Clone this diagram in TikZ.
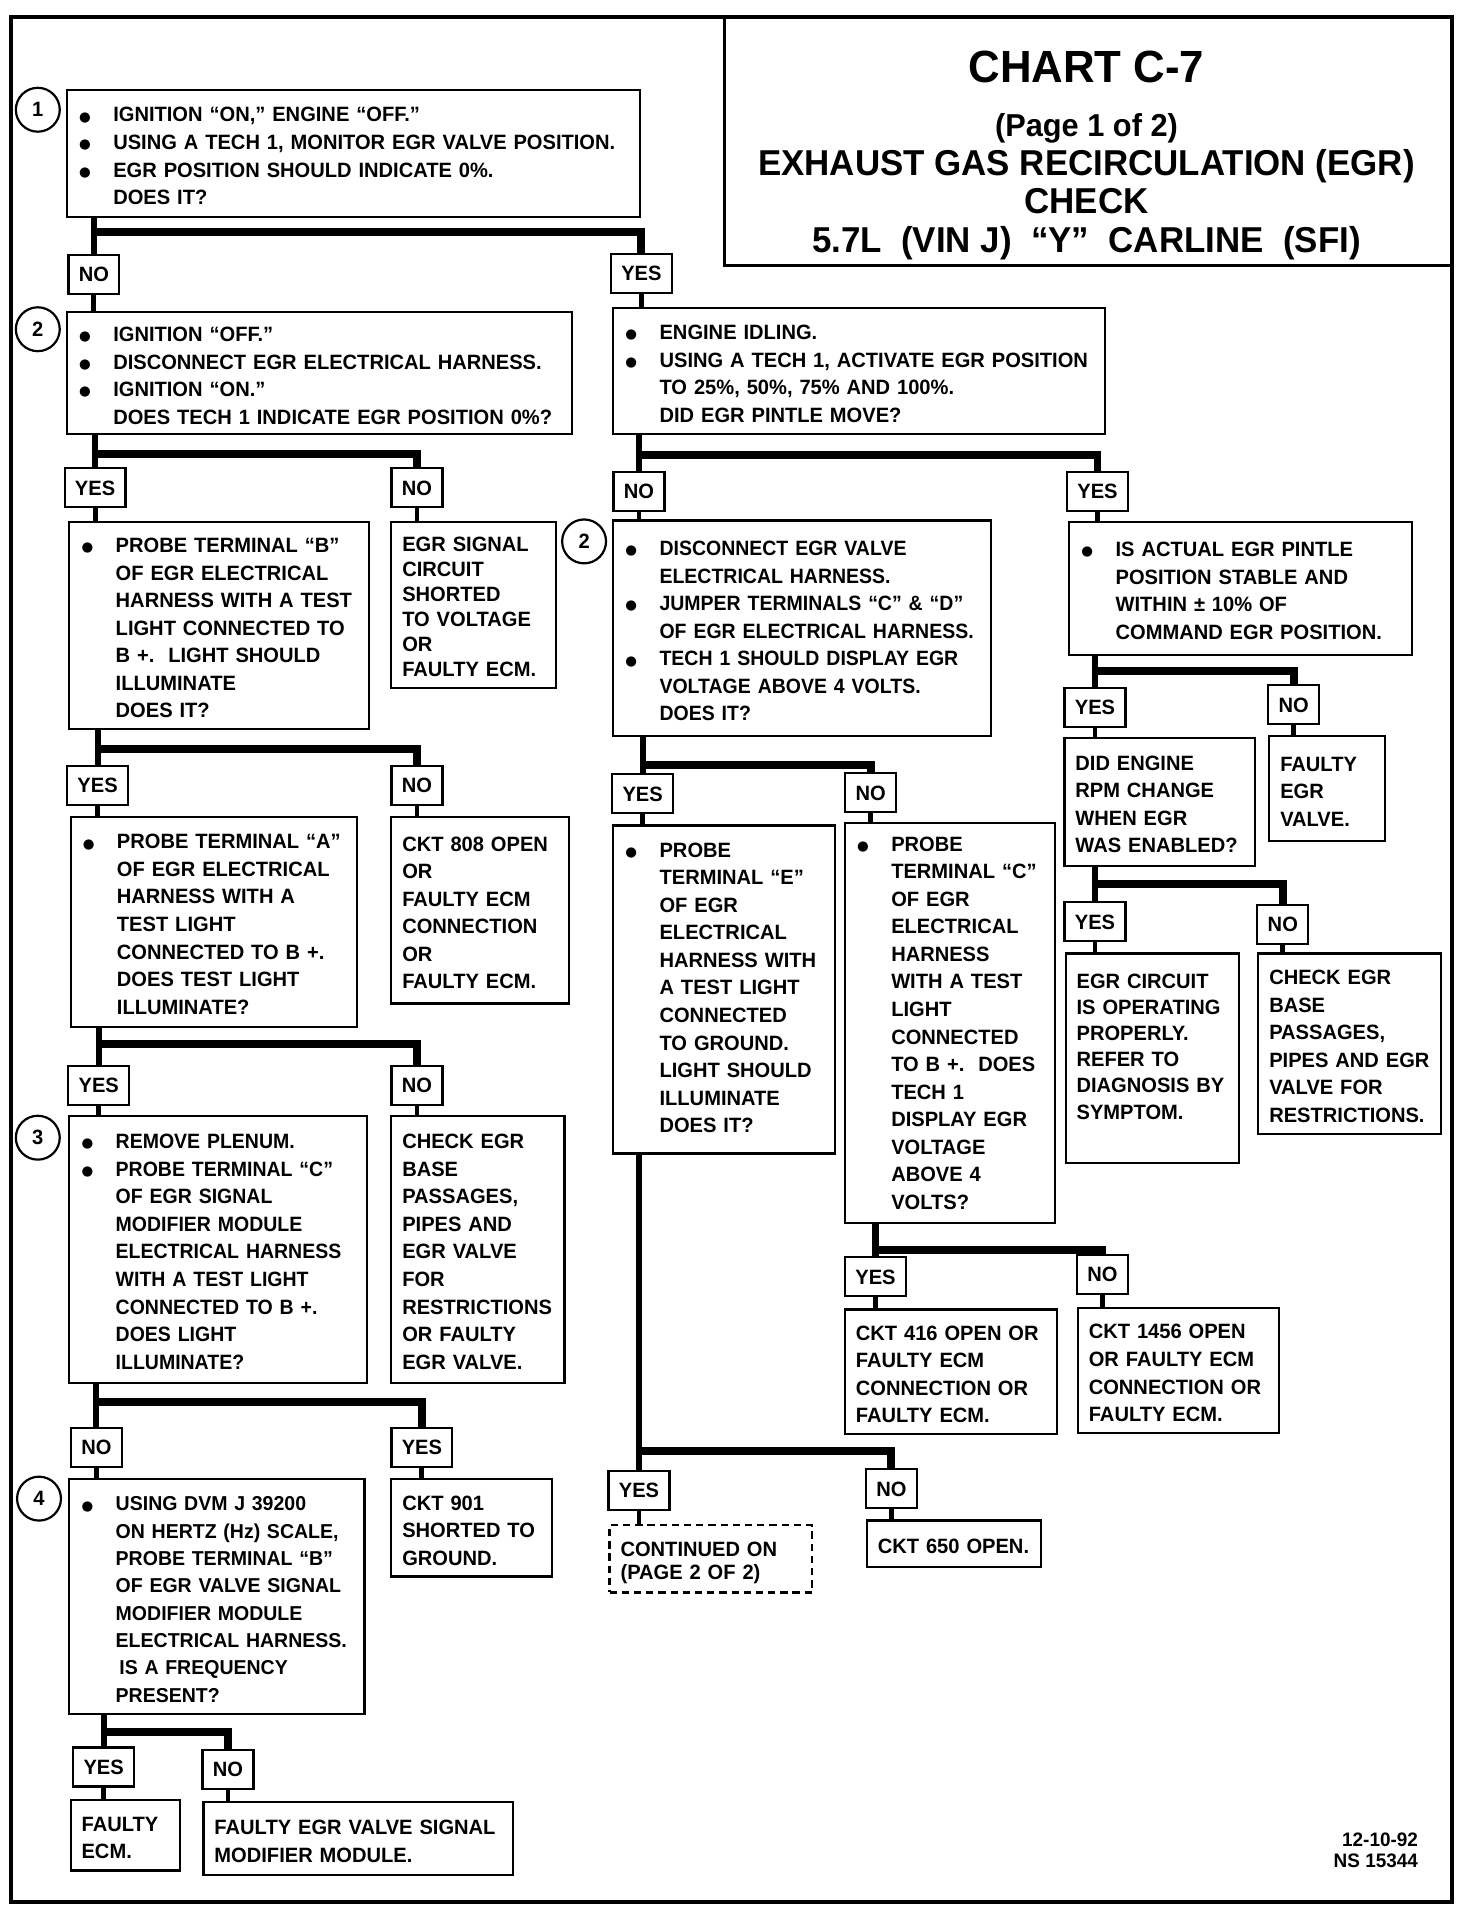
\documentclass[tikz,border=0pt]{standalone}
\usepackage{fontspec}
\setmainfont{Liberation Sans}[FakeStretch=0.97]
\newfontfamily\narrowfont{Liberation Sans}[FakeStretch=0.94]
\newfontfamily\dejavu{DejaVu Sans}
\usetikzlibrary{calc}
\newcommand\bodyfont{\fontsize{17}{22.6}\selectfont\bfseries}
\newcommand\narrowbody{\narrowfont\fontsize{17}{22.6}\selectfont\bfseries}
\newcommand\bul{\makebox[29pt][l]{\hspace*{1pt}{\dejavu\fontsize{11}{11}\selectfont\raisebox{0.6pt}{●}}}}
\newcommand\ind{\hspace*{29pt}}
\tikzset{
  bshift/.store in=\bshift, bshift=-3.5pt,
  box/.style={draw, line width=1.8pt, rectangle, anchor=north west, inner xsep=9pt, inner ysep=0pt, align=left, font=\bodyfont},
  lbl/.style={draw, line width=1.8pt, rectangle, inner xsep=8.5pt, inner ysep=0pt, minimum height=32pt, text height=12.3pt, text depth=0pt, font=\bodyfont},
  circ/.style={draw, circle, line width=1.8pt, minimum size=36pt, inner sep=0pt, font=\bodyfont},
  stem/.style={line width=5pt},
  barline/.style={line width=6.5pt, line join=miter},
  lstem/.style={line width=4pt},
  ttl/.style={anchor=base, inner sep=0pt},
}
% [opts]{name}{x1}{y1}{x2}{y2}{rows}
\newcommand\mkbox[7][]{%
  \pgfmathsetmacro\bw{#5-#3-18}%
  \pgfmathsetmacro\bh{#6-#4}%
  \node[box, text width=\bw pt, minimum height=\bh pt, #1] (#2) at (#3,#4) {\raisebox{\bshift}[\height][\depth]{\begin{tabular}{@{}l@{}}#7\end{tabular}}};}
\newcommand\branch[4]{%
  \draw[stem] (#2.north |- #1.south) -- (#2.north);
  \draw[barline] (#2.north |- 0,#4) -| (#3.north);}
\newcommand\feed[2]{\draw[lstem] (#1.south) -- (#1.south |- #2.north);}
\begin{document}
\begin{tikzpicture}[x=1pt,y=-1pt]
\useasboundingbox (0,0) rectangle (1207,1568);
% frame and title
\draw[line width=3.5pt] (9,14) rectangle (1191,1560);
\draw[line width=2.5pt] (594,14) rectangle (1191,218);
\node[ttl, font=\fontsize{37}{37}\selectfont\bfseries] (t1) at (891,68) {CHART C-7};
\node[ttl, font=\fontsize{26}{26}\selectfont\bfseries] (t2) at (891,112) {(Page 1 of 2)};
\node[ttl, font=\fontsize{29.5}{29.5}\selectfont\bfseries] (t3) at (891,144) {EXHAUST GAS RECIRCULATION (EGR)};
\node[ttl, font=\fontsize{29.5}{29.5}\selectfont\bfseries] (t4) at (891,175) {CHECK};
\node[ttl, font=\fontsize{29.5}{29.5}\selectfont\bfseries] (t5) at (891,207) {5.7L\ \ (VIN J)\ \ “Y”\ \ CARLINE\ \ (SFI)};

% circles
\node[circ] (c1) at (31,90) {1};
\node[circ] (c2) at (31,270) {2};
\node[circ] (c2b) at (479,444) {2};
\node[circ] (c3) at (31,933) {3};
\node[circ] (c4) at (32,1229) {4};

% boxes - left column
\mkbox{b1}{54}{73}{524}{177}{\bul IGNITION “ON,” ENGINE “OFF.”\\ \bul USING A TECH 1, MONITOR EGR VALVE POSITION.\\ \bul EGR POSITION SHOULD INDICATE 0\%.\\ \ind DOES IT?}
\mkbox{b2L}{54}{255}{468}{355}{\bul IGNITION “OFF.”\\ \bul DISCONNECT EGR ELECTRICAL HARNESS.\\ \bul IGNITION “ON.”\\ \ind DOES TECH 1 INDICATE EGR POSITION 0\%?}
\mkbox{bB}{56}{427}{302}{597}{\bul PROBE TERMINAL “B”\\ \ind OF EGR ELECTRICAL\\ \ind HARNESS WITH A TEST\\ \ind LIGHT CONNECTED TO\\ \ind B +.\ \ LIGHT SHOULD\\ \ind ILLUMINATE\\ \ind DOES IT?}
\mkbox[font=\fontsize{17}{20.4}\selectfont\bfseries]{bSig}{320}{427}{455}{563}{EGR SIGNAL\\ CIRCUIT\\ SHORTED\\ TO VOLTAGE\\ OR\\ FAULTY ECM.}
\mkbox{bA}{57}{669}{292}{841}{\bul PROBE TERMINAL “A”\\ \ind OF EGR ELECTRICAL\\ \ind HARNESS WITH A\\ \ind TEST LIGHT\\ \ind CONNECTED TO B +.\\ \ind DOES TEST LIGHT\\ \ind ILLUMINATE?}
\mkbox{b808}{320}{669}{466}{822}{CKT 808 OPEN\\ OR\\ FAULTY ECM\\ CONNECTION\\ OR\\ FAULTY ECM.}
\mkbox[font=\narrowbody]{b3}{56}{914}{300}{1133}{\bul REMOVE PLENUM.\\ \bul PROBE TERMINAL “C”\\ \ind OF EGR SIGNAL\\ \ind MODIFIER MODULE\\ \ind ELECTRICAL HARNESS\\ \ind WITH A TEST LIGHT\\ \ind CONNECTED TO B +.\\ \ind DOES LIGHT\\ \ind ILLUMINATE?}
\mkbox{bChk1}{320}{914}{462}{1133}{CHECK EGR\\ BASE\\ PASSAGES,\\ PIPES AND\\ EGR VALVE\\ FOR\\ RESTRICTIONS\\ OR FAULTY\\ EGR VALVE.}
\mkbox[font=\fontsize{16.5}{22.4}\selectfont\bfseries]{b4}{56}{1212}{298}{1405}{\bul USING DVM J 39200\\ \ind ON HERTZ (Hz) SCALE,\\ \ind PROBE TERMINAL “B”\\ \ind OF EGR VALVE SIGNAL\\ \ind MODIFIER MODULE\\ \ind ELECTRICAL HARNESS.\\ \ind\hspace*{3pt}IS A FREQUENCY\\ \ind PRESENT?}
\mkbox{b901}{320}{1212}{452}{1292}{CKT 901\\ SHORTED TO\\ GROUND.}
\mkbox{bFE}{57}{1475}{147}{1533}{FAULTY\\ ECM.}
\mkbox{bFM}{166}{1477}{420}{1537}{FAULTY EGR VALVE SIGNAL\\ MODIFIER MODULE.}

% boxes - right part
\mkbox{b2R}{502}{252}{905}{355}{\bul ENGINE IDLING.\\ \bul USING A TECH 1, ACTIVATE EGR POSITION\\ \ind TO 25\%, 50\%, 75\% AND 100\%.\\ \ind DID EGR PINTLE MOVE?}
\mkbox[font=\narrowbody]{bDis}{502}{426}{812}{603}{\bul DISCONNECT EGR VALVE\\ \ind ELECTRICAL HARNESS.\\ \bul JUMPER TERMINALS “C” \& “D”\\ \ind OF EGR ELECTRICAL HARNESS.\\ \bul TECH 1 SHOULD DISPLAY EGR\\ \ind VOLTAGE ABOVE 4 VOLTS.\\ \ind DOES IT?}
\mkbox{bAct}{876}{427}{1157}{536}{\bul IS ACTUAL EGR PINTLE\\ \ind POSITION STABLE AND\\ \ind WITHIN ± 10\% OF\\ \ind COMMAND EGR POSITION.}
\mkbox{bRPM}{872}{604}{1028}{709}{DID ENGINE\\ RPM CHANGE\\ WHEN EGR\\ WAS ENABLED?}
\mkbox{bFV}{1040}{603}{1135}{689}{FAULTY\\ EGR\\ VALVE.}
\mkbox[bshift=8pt, font=\fontsize{17}{21.4}\selectfont\bfseries]{bOK}{873}{781}{1015}{953}{EGR CIRCUIT\\ IS OPERATING\\ PROPERLY.\\ REFER TO\\ DIAGNOSIS BY\\ SYMPTOM.}
\mkbox{bChk2}{1031}{781}{1181}{929}{CHECK EGR\\ BASE\\ PASSAGES,\\ PIPES AND EGR\\ VALVE FOR\\ RESTRICTIONS.}
\mkbox[bshift=0pt]{bE}{502}{676}{684}{945}{\bul PROBE\\ \ind TERMINAL “E”\\ \ind OF EGR\\ \ind ELECTRICAL\\ \ind HARNESS WITH\\ \ind A TEST LIGHT\\ \ind CONNECTED\\ \ind TO GROUND.\\ \ind LIGHT SHOULD\\ \ind ILLUMINATE\\ \ind DOES IT?}
\mkbox[bshift=-1.5pt]{bC}{692}{674}{864}{1002}{\bul PROBE\\ \ind TERMINAL “C”\\ \ind OF EGR\\ \ind ELECTRICAL\\ \ind HARNESS\\ \ind WITH A TEST\\ \ind LIGHT\\ \ind CONNECTED\\ \ind TO B +.\ \ DOES\\ \ind TECH 1\\ \ind DISPLAY EGR\\ \ind VOLTAGE\\ \ind ABOVE 4\\ \ind VOLTS?}
\mkbox{b416}{692}{1073}{866}{1175}{CKT 416 OPEN OR\\ FAULTY ECM\\ CONNECTION OR\\ FAULTY ECM.}
\mkbox{b1456}{883}{1072}{1048}{1174}{CKT 1456 OPEN\\ OR FAULTY ECM\\ CONNECTION OR\\ FAULTY ECM.}
\mkbox[dashed, dash pattern=on 6pt off 4pt, font=\fontsize{17}{19}\selectfont\bfseries]{bCont}{499}{1250}{665}{1305}{CONTINUED ON\\ (PAGE 2 OF 2)}
\mkbox{b650}{710}{1246}{853}{1284}{CKT 650 OPEN.}

% YES / NO labels
\node[lbl] (n1) at (77,225) {NO};
\node[lbl] (y1) at (526,224) {YES};
\node[lbl] (y2) at (78,400) {YES};
\node[lbl] (n2) at (342,400) {NO};
\node[lbl] (n3) at (524,403) {NO};
\node[lbl] (y3) at (900,403) {YES};
\node[lbl] (y4) at (80,644) {YES};
\node[lbl] (n4) at (342,644) {NO};
\node[lbl] (y5) at (81,890) {YES};
\node[lbl] (n5) at (342,890) {NO};
\node[lbl] (n6) at (79,1187) {NO};
\node[lbl] (y6) at (346,1187) {YES};
\node[lbl] (y7) at (85,1449) {YES};
\node[lbl] (n7) at (187,1451) {NO};
\node[lbl] (y8) at (527,651) {YES};
\node[lbl] (n8) at (714,650) {NO};
\node[lbl] (y9) at (898,580) {YES};
\node[lbl] (n9) at (1061,578) {NO};
\node[lbl] (y10) at (898,756) {YES};
\node[lbl] (n10) at (1052,758) {NO};
\node[lbl] (y11) at (718,1047) {YES};
\node[lbl] (n11) at (904,1045) {NO};
\node[lbl] (y12) at (524,1222) {YES};
\node[lbl] (n12) at (731,1221) {NO};

% connectors
\branch{b1}{n1}{y1}{190}   \feed{n1}{b2L} \feed{y1}{b2R}
\branch{b2L}{y2}{n2}{372}  \feed{y2}{bB}  \feed{n2}{bSig}
\branch{b2R}{n3}{y3}{373}  \feed{n3}{bDis} \feed{y3}{bAct}
\branch{bB}{y4}{n4}{614}   \feed{y4}{bA}  \feed{n4}{b808}
\branch{bA}{y5}{n5}{856}   \feed{y5}{b3}  \feed{n5}{bChk1}
\branch{b3}{n6}{y6}{1150}  \feed{n6}{b4}  \feed{y6}{b901}
\branch{b4}{y7}{n7}{1420}  \feed{y7}{bFE} \feed{n7}{bFM}
\branch{bDis}{y8}{n8}{627} \feed{y8}{bE}  \feed{n8}{bC}
\branch{bAct}{y9}{n9}{550} \feed{y9}{bRPM} \feed{n9}{bFV}
\branch{bRPM}{y10}{n10}{725} \feed{y10}{bOK} \feed{n10}{bChk2}
\branch{bC}{y11}{n11}{1025} \feed{y11}{b416} \feed{n11}{b1456}
\branch{bE}{y12}{n12}{1190} \feed{y12}{bCont} \feed{n12}{b650}

% footer
\node[anchor=north east, align=right, inner sep=0pt, font=\fontsize{16}{17.5}\selectfont\bfseries] (ft) at (1163,1503) {12-10-92\\NS 15344};
\end{tikzpicture}
\end{document}
